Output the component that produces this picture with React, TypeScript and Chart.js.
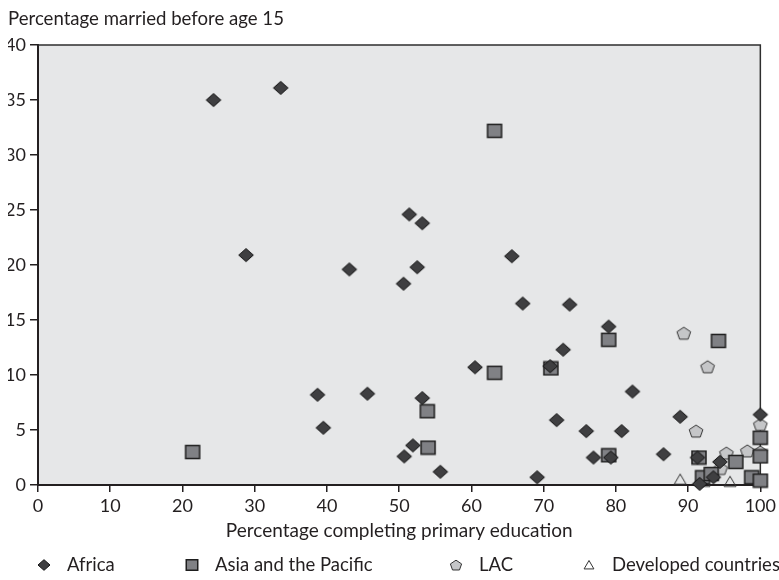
import React, { useEffect, useRef } from "react";
import { Chart, registerables } from "chart.js";

Chart.register(...registerables);

const FONT = "Lato, 'Liberation Sans', sans-serif";
const TEXT_COLOR = "#231f20";

const seriesNames = ["Africa", "Asia and the Pacific", "LAC", "Developed countries"];
const yAxisTitle = "Percentage married before age 15";
const xAxisTitle = "Percentage completing primary education";

const xTicks = [0, 10, 20, 30, 40, 50, 60, 70, 80, 90, 100];
const yTicks = [0, 5, 10, 15, 20, 25, 30, 35, 40];

const africaX = [24.3, 33.6, 28.8, 43.1, 51.4, 53.2, 52.5, 50.6, 65.6, 67.1, 73.6, 79.0, 72.7, 60.5, 70.9, 53.2, 51.9, 50.7, 55.7, 69.1, 38.7, 45.6, 39.5, 71.8, 75.9, 80.8, 76.9, 79.3, 82.3, 88.9, 86.6, 91.3, 94.4, 100, 91.6, 93.5];
const africaY = [35.0, 36.1, 20.9, 19.6, 24.6, 23.8, 19.8, 18.3, 20.8, 16.5, 16.4, 14.4, 12.3, 10.7, 10.8, 7.9, 3.6, 2.6, 1.2, 0.7, 8.2, 8.3, 5.2, 5.9, 4.9, 4.9, 2.5, 2.5, 8.5, 6.2, 2.8, 2.5, 2.1, 6.4, 0.1, 0.7];

const asiaX = [21.4, 63.2, 79.0, 94.2, 63.2, 71.0, 53.9, 54.0, 79.0, 91.5, 100, 100, 96.6, 92.0, 93.2, 98.8, 100];
const asiaY = [3.0, 32.2, 13.2, 13.1, 10.2, 10.6, 6.7, 3.4, 2.7, 2.5, 4.3, 2.6, 2.1, 0.7, 1.0, 0.7, 0.4];

const lacX = [89.4, 92.7, 91.1, 100, 95.3, 98.2, 100, 94.5];
const lacY = [13.8, 10.75, 4.9, 5.5, 2.9, 3.1, 3.0, 1.5];

const developedX = [88.9, 92.2, 95.8];
const developedY = [0.5, 0.3, 0.3];

const markerKinds = ["diamond", "square", "pentagon", "triangle"];

function toPoints(xs: number[], ys: number[]) {
  return xs.map((x, i) => ({ x, y: ys[i] }));
}

function makeMarker(kind: string, s: number): HTMLCanvasElement {
  const c = document.createElement("canvas");
  const W = 18;
  const H = 16;
  c.width = W;
  c.height = H;
  const ctx = c.getContext("2d")!;
  const cx = W / 2;
  const cy = H / 2;
  ctx.beginPath();
  if (kind === "diamond") {
    const hw = 7.3 * s;
    const hh = 6.5 * s;
    ctx.moveTo(cx, cy - hh);
    ctx.lineTo(cx + hw, cy);
    ctx.lineTo(cx, cy + hh);
    ctx.lineTo(cx - hw, cy);
    ctx.closePath();
    ctx.fillStyle = "#3f3f41";
    ctx.fill();
    ctx.lineWidth = 1;
    ctx.strokeStyle = "#111111";
    ctx.stroke();
  } else if (kind === "square") {
    const hw = 7 * s;
    const hh = 6.4 * s;
    ctx.rect(cx - hw, cy - hh, 2 * hw, 2 * hh);
    ctx.fillStyle = "#808185";
    ctx.fill();
    ctx.lineWidth = 1.5;
    ctx.strokeStyle = "#1e1e1e";
    ctx.stroke();
  } else if (kind === "pentagon") {
    const r = 7.2 * s;
    for (let k = 0; k < 5; k++) {
      const a = -Math.PI / 2 + (k * 2 * Math.PI) / 5;
      const px = cx + r * Math.cos(a);
      const py = cy + 0.6 + r * 0.92 * Math.sin(a);
      if (k === 0) ctx.moveTo(px, py);
      else ctx.lineTo(px, py);
    }
    ctx.closePath();
    ctx.fillStyle = "#c5c6c8";
    ctx.fill();
    ctx.lineWidth = 1;
    ctx.strokeStyle = "#333333";
    ctx.stroke();
  } else {
    const hw = 6 * s;
    ctx.moveTo(cx, cy - 5.5 * s);
    ctx.lineTo(cx + hw, cy + 4.8 * s);
    ctx.lineTo(cx - hw, cy + 4.8 * s);
    ctx.closePath();
    ctx.lineWidth = 1;
    ctx.strokeStyle = "#333333";
    ctx.stroke();
  }
  return c;
}

const plotFrame = {
  id: "plotFrame",
  beforeDraw(chart: any) {
    const { ctx, chartArea: a } = chart;
    ctx.save();
    ctx.fillStyle = "#e6e7e8";
    ctx.fillRect(a.left, a.top, a.right - a.left, a.bottom - a.top);
    ctx.restore();
  },
  beforeDatasetsDraw(chart: any) {
    const { ctx, chartArea: a } = chart;
    ctx.save();
    ctx.strokeStyle = "#2e2e2e";
    ctx.lineWidth = 1.5;
    ctx.beginPath();
    ctx.moveTo(a.left, a.top);
    ctx.lineTo(a.right, a.top);
    ctx.lineTo(a.right, a.bottom);
    ctx.stroke();
    ctx.restore();
  },
};

const legendIconCenters = [36, 184, 448, 581];

const bottomLegend = {
  id: "bottomLegend",
  afterDraw(chart: any) {
    const { ctx } = chart;
    const cy = 557;
    ctx.save();
    ctx.font = `18.5px ${FONT}`;
    ctx.fillStyle = TEXT_COLOR;
    ctx.textBaseline = "middle";
    ctx.textAlign = "left";
    chart.data.datasets.forEach((ds: any, i: number) => {
      const icon = makeMarker(markerKinds[i], 0.82);
      const cx = legendIconCenters[i];
      ctx.drawImage(icon, cx - icon.width / 2, cy - icon.height / 2);
      ctx.fillText(ds.label, cx + 23, cy);
    });
    ctx.restore();
  },
};

export default function App() {
  const ref = useRef<HTMLCanvasElement>(null);

  useEffect(() => {
    if (!ref.current) return;
    const series = [
      toPoints(africaX, africaY),
      toPoints(asiaX, asiaY),
      toPoints(lacX, lacY),
      toPoints(developedX, developedY),
    ];
    const datasets = series.map((data, i) => ({
      label: seriesNames[i],
      data,
      pointStyle: makeMarker(markerKinds[i], 1),
      pointRadius: 7,
      pointHoverRadius: 7,
      clip: false as any,
    }));

    const tickFont = { family: FONT, size: 18 };
    const chart = new Chart(ref.current, {
      type: "scatter",
      data: { datasets },
      options: {
        animation: false,
        responsive: false,
        events: [],
        layout: { padding: { top: 0, left: 0, right: 17, bottom: 38 } },
        plugins: {
          legend: { display: false },
          tooltip: { enabled: false },
          title: {
            display: true,
            text: yAxisTitle,
            align: "start",
            color: TEXT_COLOR,
            font: { family: FONT, size: 18.6, weight: "normal", lineHeight: 1.2 },
            padding: { top: 0, bottom: 14.7 },
          },
        },
        scales: {
          x: {
            type: "linear",
            min: 0,
            max: 100,
            afterBuildTicks: (scale: any) => {
              scale.ticks = xTicks.map((v) => ({ value: v }));
            },
            afterFit: (scale: any) => {
              scale.height = 57;
            },
            ticks: { color: TEXT_COLOR, font: tickFont, padding: 3, maxRotation: 0, autoSkip: false },
            grid: { drawOnChartArea: false, drawTicks: true, tickLength: 7, color: TEXT_COLOR, lineWidth: 1.5 },
            border: { display: true, color: TEXT_COLOR, width: 2 },
            title: {
              display: true,
              text: xAxisTitle,
              color: TEXT_COLOR,
              font: { family: FONT, size: 19, lineHeight: 1.2 },
              padding: { top: 0, bottom: 0 },
            },
          },
          y: {
            type: "linear",
            min: 0,
            max: 40,
            afterBuildTicks: (scale: any) => {
              scale.ticks = yTicks.map((v) => ({ value: v }));
            },
            afterFit: (scale: any) => {
              scale.width = 30;
            },
            ticks: { color: TEXT_COLOR, font: tickFont, padding: 4, autoSkip: false },
            grid: { drawOnChartArea: false, drawTicks: true, tickLength: 8, color: TEXT_COLOR, lineWidth: 1.5 },
            border: { display: true, color: TEXT_COLOR, width: 2 },
          },
        },
      },
      plugins: [plotFrame, bottomLegend],
    });
    return () => chart.destroy();
  }, []);

  return (
    <div style={{ position: "fixed", left: 8, top: 8, width: 771, height: 572 }}>
      <canvas ref={ref} width={771} height={572} style={{ display: "block" }} />
    </div>
  );
}
